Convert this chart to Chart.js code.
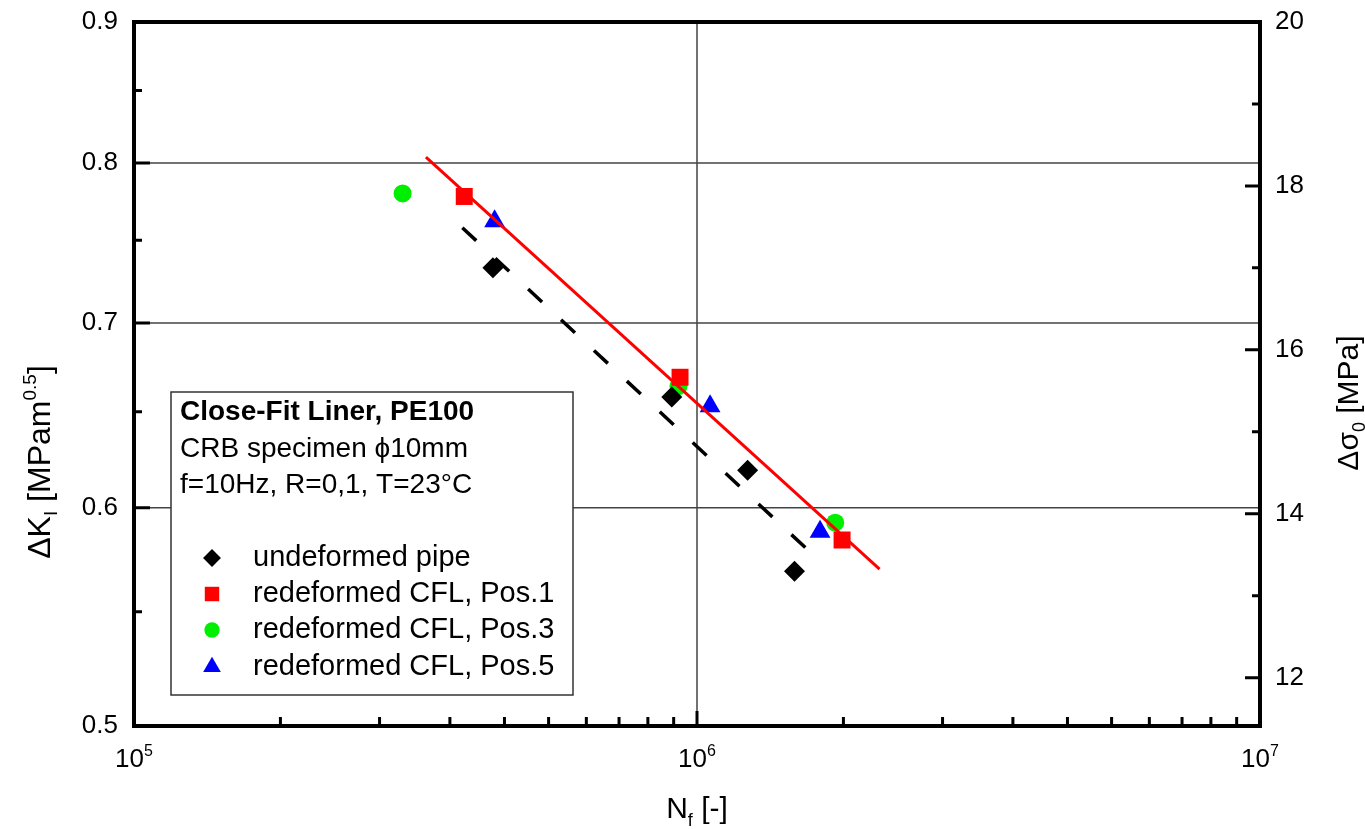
<!DOCTYPE html>
<html>
<head>
<meta charset="utf-8">
<script src="https://cdn.jsdelivr.net/npm/chart.js@4.4.1/dist/chart.umd.min.js"></script>
<style>
  html, body { margin: 0; padding: 0; background: #fff; }
</style>
</head>
<body>
<canvas id="chart" width="1365" height="829"></canvas>
<script>
// cycles to failure N_f and ΔK_I
const undeformedN = [4.34e5, 9.02e5, 1.23e6, 1.49e6];
const undeformedK = [0.733, 0.658, 0.619, 0.569];

const pos1N = [3.86e5, 9.33e5, 1.81e6];
const pos1K = [0.778, 0.669, 0.584];

const pos3N = [3.00e5, 9.27e5, 1.76e6];
const pos3K = [0.780, 0.664, 0.5925];

const pos5N = [4.37e5, 1.055e6, 1.654e6];
const pos5K = [0.762, 0.653, 0.588];

// fitted lines (end points)
const fitPos1N = [3.30e5, 2.11e6];
const fitPos1K = [0.804, 0.570];
const fitUndefN = [3.83e5, 1.68e6];
const fitUndefK = [0.758, 0.572];

// axes
const xTicks = [1e5, 1e6, 1e7];
const xTickExp = ['5', '6', '7'];
const xMinorTicks = [1.82e5, 2.73e5, 3.64e5, 4.55e5, 5.45e5, 6.36e5, 7.27e5, 8.18e5, 9.09e5,
                     1.82e6, 2.73e6, 3.64e6, 4.55e6, 5.45e6, 6.36e6, 7.27e6, 8.18e6, 9.09e6];
const xGrid = [1e6];
const yTicks = [0.5, 0.6, 0.7, 0.8, 0.9];
const yMinorTicks = [0.55, 0.65, 0.75, 0.85];
const yGrid = [0.6, 0.7, 0.8];
const y2Ticks = [12, 14, 16, 18, 20];
const y2MinorTicks = [13, 15, 17, 19];

const legendHeader = ['Close-Fit Liner, PE100', 'CRB specimen \u03D510mm', 'f=10Hz, R=0,1, T=23\u00B0C'];

const FONT = '"Liberation Sans", Arial, sans-serif';

function pts(xs, ys) {
    return xs.map((x, i) => ({ x: x, y: ys[i] }));
}

// draw text made of parts: [text, size, dy, bold]
function richText(ctx, parts, x, y, align) {
    let w = 0;
    parts.forEach(p => {
        ctx.font = (p[3] ? 'bold ' : '') + p[1] + 'px ' + FONT;
        w += ctx.measureText(p[0]).width;
    });
    let cx = x;
    if (align === 'center') cx = x - w / 2;
    if (align === 'right') cx = x - w;
    ctx.textAlign = 'left';
    ctx.textBaseline = 'alphabetic';
    parts.forEach(p => {
        ctx.font = (p[3] ? 'bold ' : '') + p[1] + 'px ' + FONT;
        ctx.fillText(p[0], cx, y + (p[2] || 0));
        cx += ctx.measureText(p[0]).width;
    });
}

const gridPlugin = {
    id: 'gridPlugin',
    beforeDatasetsDraw(chart) {
        const ctx = chart.ctx, a = chart.chartArea;
        const sx = chart.scales.x, sy = chart.scales.y;
        ctx.save();
        ctx.strokeStyle = '#444';
        ctx.lineWidth = 1.5;
        ctx.beginPath();
        yGrid.forEach(v => {
            const py = sy.getPixelForValue(v);
            ctx.moveTo(a.left, py);
            ctx.lineTo(a.right, py);
        });
        xGrid.forEach(v => {
            const px = sx.getPixelForValue(v);
            ctx.moveTo(px, a.top);
            ctx.lineTo(px, a.bottom);
        });
        ctx.stroke();
        ctx.restore();
    }
};

const framePlugin = {
    id: 'framePlugin',
    afterDatasetsDraw(chart) {
        const ctx = chart.ctx, a = chart.chartArea;
        const sx = chart.scales.x, sy = chart.scales.y, sy2 = chart.scales.y2;
        ctx.save();

        // ticks (inward)
        ctx.strokeStyle = '#000';
        ctx.lineWidth = 3;
        ctx.beginPath();
        yTicks.forEach(v => { const p = sy.getPixelForValue(v); ctx.moveTo(a.left, p); ctx.lineTo(a.left + 16, p); });
        yMinorTicks.forEach(v => { const p = sy.getPixelForValue(v); ctx.moveTo(a.left, p); ctx.lineTo(a.left + 8, p); });
        y2Ticks.forEach(v => { const p = sy2.getPixelForValue(v); ctx.moveTo(a.right, p); ctx.lineTo(a.right - 15, p); });
        y2MinorTicks.forEach(v => { const p = sy2.getPixelForValue(v); ctx.moveTo(a.right, p); ctx.lineTo(a.right - 8, p); });
        xTicks.forEach(v => { const p = sx.getPixelForValue(v); ctx.moveTo(p, a.bottom); ctx.lineTo(p, a.bottom - 15); });
        xMinorTicks.forEach(v => { const p = sx.getPixelForValue(v); ctx.moveTo(p, a.bottom); ctx.lineTo(p, a.bottom - 9); });
        ctx.stroke();

        // frame
        ctx.lineWidth = 4;
        ctx.strokeRect(a.left, a.top, a.right - a.left, a.bottom - a.top);

        // tick labels
        ctx.fillStyle = '#000';
        ctx.font = '26px ' + FONT;
        ctx.textBaseline = 'middle';
        ctx.textAlign = 'right';
        yTicks.forEach(v => ctx.fillText(v.toFixed(1), a.left - 16, sy.getPixelForValue(v)));
        ctx.textAlign = 'left';
        y2Ticks.forEach(v => ctx.fillText(String(v), a.right + 15, sy2.getPixelForValue(v)));
        xTicks.forEach((v, i) => {
            richText(ctx, [['10', 26], [xTickExp[i], 16, -11]], sx.getPixelForValue(v), a.bottom + 41, 'center');
        });

        // axis titles
        richText(ctx, [['N', 30], ['f', 18, 8], [' [-]', 30]], (a.left + a.right) / 2, 818, 'center');

        ctx.save();
        ctx.translate(50, 462);
        ctx.rotate(-Math.PI / 2);
        richText(ctx, [['\u0394K', 32], ['I', 19, 7], [' [MPam', 32], ['0.5', 19, -14], [']', 32]], 0, 0, 'center');
        ctx.restore();

        ctx.save();
        ctx.translate(1358, 403);
        ctx.rotate(-Math.PI / 2);
        richText(ctx, [['\u0394\u03C3', 30], ['0', 18, 7], [' [MPa]', 30]], 0, 0, 'center');
        ctx.restore();

        // legend box
        const bx = 171, by = 392, bw = 402, bh = 303;
        ctx.fillStyle = '#fff';
        ctx.fillRect(bx, by, bw, bh);
        ctx.strokeStyle = '#333';
        ctx.lineWidth = 1.5;
        ctx.strokeRect(bx, by, bw, bh);

        ctx.fillStyle = '#000';
        richText(ctx, [[legendHeader[0], 28, 0, true]], bx + 9, 420, 'left');
        richText(ctx, [[legendHeader[1], 28]], bx + 9, 457, 'left');
        richText(ctx, [[legendHeader[2], 28]], bx + 9, 493, 'left');

        const entryY = [566, 602, 638, 675];
        chart.data.datasets.filter(d => d.inLegend).forEach((d, i) => {
            const my = entryY[i] - 8;
            ctx.fillStyle = d.backgroundColor;
            Chart.helpers.drawPoint(ctx, {
                pointStyle: d.pointStyle,
                radius: d.pointRadius * 0.85,
                rotation: 0,
                borderWidth: 0
            }, 212, my);
            ctx.fillStyle = '#000';
            richText(ctx, [[d.label, 29]], 253, entryY[i], 'left');
        });

        ctx.restore();
    }
};

new Chart(document.getElementById('chart'), {
    type: 'scatter',
    data: {
        datasets: [
            {
                label: 'fit undeformed',
                data: pts(fitUndefN, fitUndefK),
                showLine: true,
                borderColor: '#000',
                borderWidth: 3.5,
                borderDash: [19, 26],
                pointRadius: 0,
                order: 1
            },
            {
                label: 'fit Pos.1',
                data: pts(fitPos1N, fitPos1K),
                showLine: true,
                borderColor: '#ff0000',
                borderWidth: 3,
                pointRadius: 0,
                order: 1
            },
            {
                label: 'undeformed pipe',
                data: pts(undeformedN, undeformedK),
                pointStyle: 'rectRot',
                pointRadius: 10.5,
                backgroundColor: '#000',
                borderWidth: 0,
                inLegend: true,
                order: 2
            },
            {
                label: 'redeformed CFL, Pos.1',
                data: pts(pos1N, pos1K),
                pointStyle: 'rect',
                pointRadius: 12,
                backgroundColor: '#ff0000',
                borderWidth: 0,
                inLegend: true,
                order: 2
            },
            {
                label: 'redeformed CFL, Pos.3',
                data: pts(pos3N, pos3K),
                pointStyle: 'circle',
                pointRadius: 9,
                backgroundColor: '#00ee00',
                borderWidth: 0,
                inLegend: true,
                order: 2
            },
            {
                label: 'redeformed CFL, Pos.5',
                data: pts(pos5N, pos5K),
                pointStyle: 'triangle',
                pointRadius: 12,
                backgroundColor: '#0000ff',
                borderWidth: 0,
                inLegend: true,
                order: 2
            }
        ]
    },
    options: {
        responsive: false,
        animation: false,
        devicePixelRatio: 1,
        events: [],
        layout: { padding: { top: 22, left: 0, right: 0, bottom: 0 } },
        plugins: {
            legend: { display: false },
            tooltip: { enabled: false }
        },
        scales: {
            x: {
                type: 'logarithmic',
                position: 'bottom',
                min: 1e5,
                max: 1e7,
                ticks: { display: false },
                grid: { display: false, drawTicks: false },
                border: { display: false },
                afterFit: s => { s.height = 103; }
            },
            y: {
                type: 'logarithmic',
                position: 'left',
                min: 0.5,
                max: 0.9,
                ticks: { display: false },
                grid: { display: false, drawTicks: false },
                border: { display: false },
                afterFit: s => { s.width = 134; }
            },
            y2: {
                type: 'linear',
                position: 'right',
                min: 11.41,
                max: 20,
                ticks: { display: false },
                grid: { display: false, drawTicks: false },
                border: { display: false },
                afterFit: s => { s.width = 105; }
            }
        }
    },
    plugins: [gridPlugin, framePlugin]
});
</script>
</body>
</html>
